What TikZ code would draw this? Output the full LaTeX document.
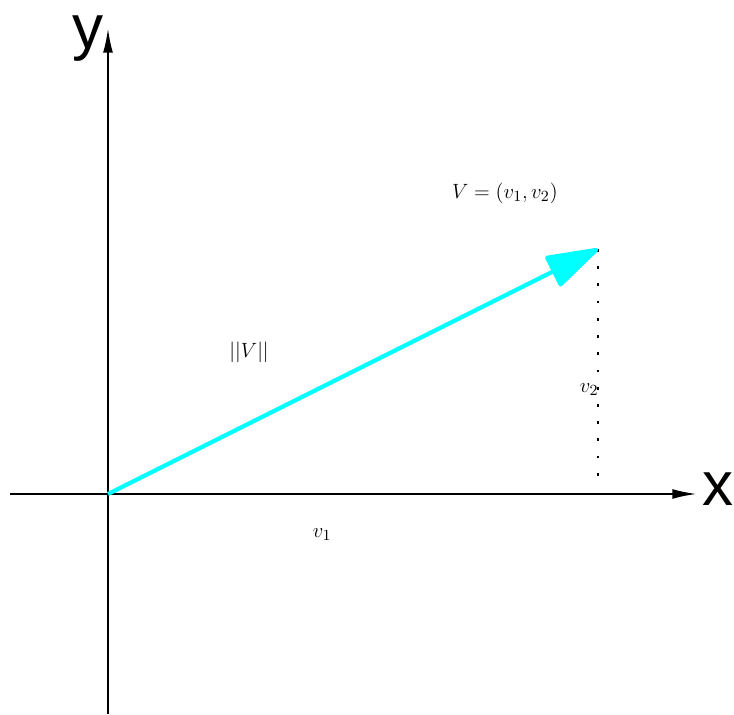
\documentclass[tikz,border=0pt]{standalone}
\usepackage{fontspec}
\newfontfamily\axisfont{Liberation Sans}
\usetikzlibrary{arrows.meta}
\definecolor{aqua}{RGB}{0,255,255}
\tikzset{
  axis/.style={line width=1.2pt, -{Latex[length=0.5cm,width=0.2cm]}},
  vec/.style={aqua, line width=2.4pt, -{Triangle[round,length=1.15cm,width=0.7cm]}},
  proj/.style={line width=1.6pt, dash pattern=on 1.6pt off 8.4pt},
  lbl/.style={font=\fontsize{13}{15}\selectfont},
  axlbl/.style={inner sep=0pt, font=\axisfont\fontsize{36}{38}\selectfont}
}
\begin{document}
\begin{tikzpicture}
    \useasboundingbox (-2.204,-4.49) rectangle (12.776,10.082);
        \coordinate (O) at (0,0);
        \coordinate (Xl) at (-2,0);
        \coordinate (Xr) at (12.02,0);
        \coordinate (Yb) at (0,-4.49);
        \coordinate (Yt) at (0,9.51);
        \coordinate (V) at (10,5);
        \coordinate (P) at (10,0.25);

        \draw[axis] (Xl) -- (Xr);
        \draw[axis] (Yb) -- (Yt);
        \draw[proj] (V) -- (P);
        \draw[vec] (O) -- (V);

    % Labels
    \node[axlbl] (xlab) at (12.44,0.1) {x};
    \node[axlbl] (ylab) at (-0.41,9.3) {y};
    \node[lbl] (vlab) at (8.1,6.14) {$V=(v_1,v_2)$};
    \node[lbl] (normlab) at (2.88,2.9) {$||V||$};
    \node[lbl] (v2lab) at (9.82,2.14) {$v_2$};
    \node[lbl] (v1lab) at (4.37,-0.82) {$v_1$};
    \end{tikzpicture}
\end{document}
